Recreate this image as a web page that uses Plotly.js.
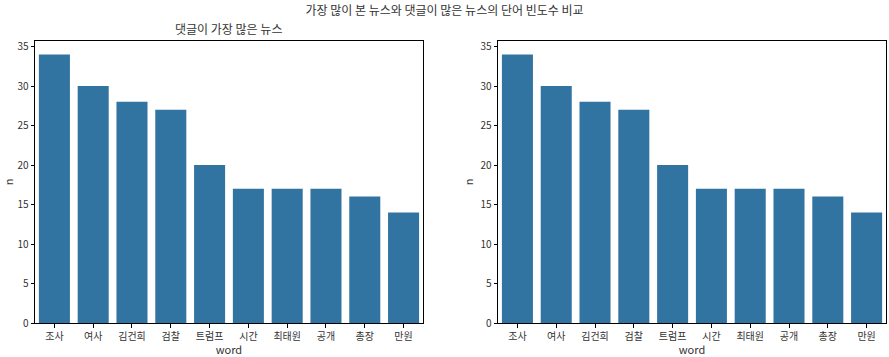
<!DOCTYPE html>
<html>
<head>
<meta charset="utf-8">
<script src="https://cdn.plot.ly/plotly-3.0.1.min.js"></script>
<style>html,body{margin:0;padding:0;background:#fff;}</style>
</head>
<body>
<div id="chart" style="width:889px;height:357px;"></div>
<script>
const words = ["조사", "여사", "김건희", "검찰", "트럼프", "시간", "최태원", "공개", "총장", "만원"];
const countsLeft = [34, 30, 28, 27, 20, 17, 17, 17, 16, 14];
const countsRight = [34, 30, 28, 27, 20, 17, 17, 17, 16, 14];
const yTicks = [0, 5, 10, 15, 20, 25, 30, 35];

const FONT = "'Noto Sans CJK KR', 'DejaVu Sans', sans-serif";
const barColor = "#3274a1";

const traces = [
  {type: "bar", x: words, y: countsLeft, xaxis: "x", yaxis: "y",
   marker: {color: barColor}, hoverinfo: "x+y", showlegend: false},
  {type: "bar", x: words, y: countsRight, xaxis: "x2", yaxis: "y2",
   marker: {color: barColor}, hoverinfo: "x+y", showlegend: false}
];

function xa(domain, anchor) {
  return {domain: domain, anchor: anchor, range: [-0.5, 9.5], showline: true, linecolor: "#000",
    linewidth: 1, mirror: true, ticks: "outside", ticklen: 3.5, tickcolor: "#000",
    showgrid: false, zeroline: false, tickfont: {size: 10, color: "#333"},
    title: {text: "word", font: {size: 11, color: "#333"}, standoff: 2}};
}
function ya(anchor, standoff) {
  return {domain: [0, 1], anchor: anchor, range: [0, 35.7], showline: true, linecolor: "#000",
    linewidth: 1, mirror: true, ticks: "outside", ticklen: 3.5, tickcolor: "#000",
    tickvals: yTicks, showgrid: false, zeroline: false, tickfont: {size: 10, color: "#333"},
    title: {text: "n", font: {size: 11, color: "#333"}, standoff: standoff}};
}

const layout = {
  width: 889, height: 357,
  margin: {l: 35, r: 3, t: 41, b: 34},
  paper_bgcolor: "#fff", plot_bgcolor: "#fff",
  font: {family: FONT, color: "#333"},
  bargap: 0.2,
  title: {text: "가장 많이 본 뉴스와 댓글이 많은 뉴스의 단어 빈도수 비교", font: {size: 12, color: "#333"},
          x: 0.5, xanchor: "center", y: 0.97, yanchor: "middle", yref: "container"},
  xaxis: xa([0, 0.4559], "y"),
  yaxis: ya("x", 8),
  xaxis2: xa([0.5441, 1.0], "y2"),
  yaxis2: ya("x2", 4),
  annotations: [
    {text: "댓글이 가장 많은 뉴스", xref: "x domain", yref: "y domain", x: 0.5, y: 1.0,
     xanchor: "center", yanchor: "bottom", yshift: 2, showarrow: false, font: {size: 12, color: "#333"}}
  ]
};

Plotly.newPlot("chart", traces, layout, {displayModeBar: false, staticPlot: true});
</script>
</body>
</html>
